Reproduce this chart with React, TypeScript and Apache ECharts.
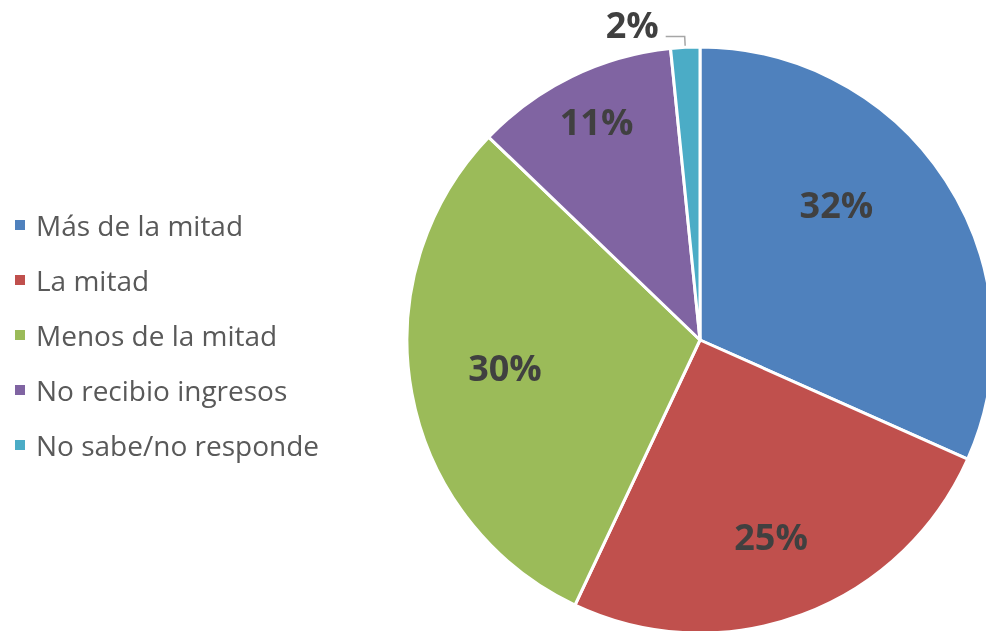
import React, { useEffect, useRef } from "react";
import * as echarts from "echarts";

const categories = [
  "Más de la mitad",
  "La mitad",
  "Menos de la mitad",
  "No recibio ingresos",
  "No sabe/no responde",
];
const values = [31.6, 25.3, 30.1, 11.2, 1.6];
const colors = ["#4F81BD", "#C0504D", "#9BBB59", "#8064A2", "#4BACC6"];
// label nudges (Excel "best fit" placement), in px
const labelShift: (number[] | null)[] = [[11, -54], [19, 56], [-48, 0], [-38, -84], null];

export default function App() {
  const ref = useRef<HTMLDivElement>(null);
  useEffect(() => {
    const chart = echarts.init(ref.current!, null, { renderer: "svg" });
    chart.setOption({
      animation: false,
      color: colors,
      legend: {
        orient: "vertical",
        left: 8,
        top: 205,
        icon: "rect",
        itemWidth: 12,
        itemHeight: 12,
        itemGap: 25,
        selectedMode: false,
        textStyle: {
          fontFamily: "Open Sans",
          fontSize: 28,
          color: "#595959",
          lineHeight: 30,
          padding: [0, 0, 0, 5],
        },
        data: categories,
      },
      series: [
        {
          type: "pie",
          center: [700, 340],
          radius: 293,
          startAngle: 90,
          clockwise: true,
          silent: true,
          itemStyle: { borderColor: "#ffffff", borderWidth: 3 },
          label: {
            position: "inside",
            formatter: (p: any) => Math.round(p.percent) + "%",
            fontFamily: "Open Sans",
            fontWeight: "bold",
            fontSize: 36,
            color: "#404040",
          },
          labelLayout: (p: any) => {
            const s = labelShift[p.dataIndex];
            return s ? { dx: s[0], dy: s[1] } : {};
          },
          data: categories.map((name, i) => ({
            name,
            value: values[i],
            ...(i === 4
              ? {
                  label: {
                    position: "outside",
                    distanceToLabelLine: 7,
                    formatter: (p: any) => "{v|" + Math.round(p.percent) + "%}",
                    rich: {
                      v: {
                        fontFamily: "Open Sans",
                        fontWeight: "bold",
                        fontSize: 36,
                        color: "#404040",
                        padding: [0, 0, 24, 0],
                      },
                    },
                  },
                  labelLine: {
                    show: true,
                    length: 11,
                    length2: 19,
                    lineStyle: { color: "#A6A6A6", width: 1.5 },
                  },
                }
              : {}),
          })),
        },
      ],
    });
    return () => chart.dispose();
  }, []);
  return (
    <div
      ref={ref}
      style={{ position: "fixed", left: 0, top: 0, width: 986, height: 631 }}
    />
  );
}
